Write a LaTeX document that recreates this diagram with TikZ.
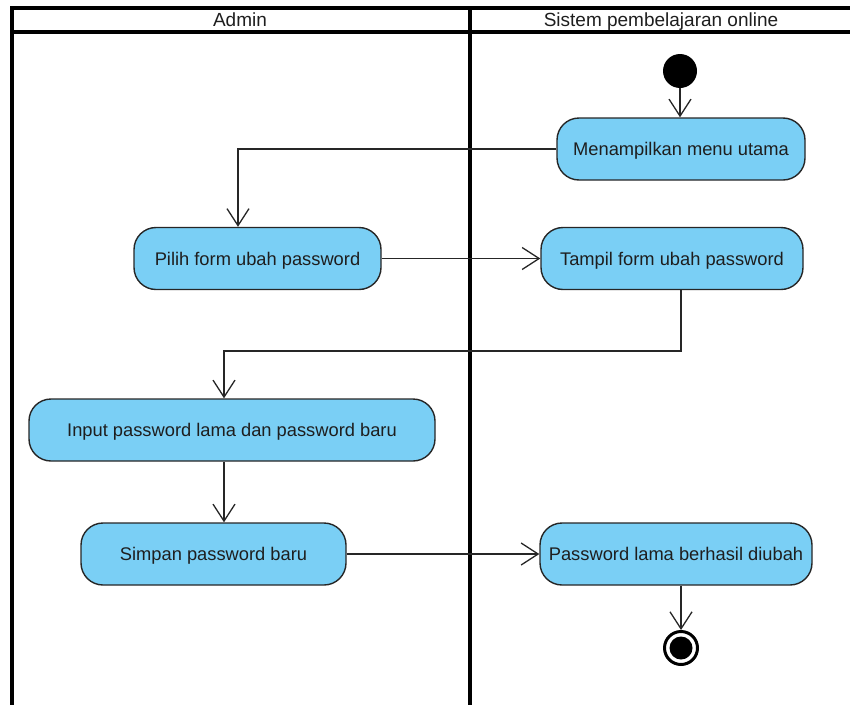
\documentclass[tikz,border=0pt]{standalone}
\usepackage{fontspec}
\setmainfont{Liberation Sans}
\usetikzlibrary{arrows.meta}
\definecolor{actblue}{RGB}{122,207,245}
\definecolor{txt}{RGB}{30,30,30}
\tikzset{
  act/.style={draw=black!85, line width=1.4pt, fill=actblue, rounded corners=22pt,
    minimum height=62pt, inner sep=0pt, text=txt, font=\fontsize{18.3}{22}\selectfont,
    text height=16.3pt, text depth=3.2pt},
  flow/.style={line width=1.3pt, draw=black!85, -{Straight Barb[length=17pt,width=22pt,line width=1.3pt]}},
  lane/.style={line width=3.2pt, line cap=rect},
  hdr/.style={text=txt, font=\fontsize{19}{22}\selectfont, inner sep=0pt,
    text height=16.9pt, text depth=3.3pt}
}
\begin{document}
\begin{tikzpicture}[x=1pt,y=-1pt]
\useasboundingbox (0,0) rectangle (850,704);
% swimlane frame
\draw[lane] (12,708) -- (12,8) -- (860,8);
\draw[lane] (12,32) -- (860,32);
\draw[lane] (470,8) -- (470,708);
\node[hdr] (hA) at (240,19.5) {Admin};
\node[hdr] (hS) at (661,19.5) {Sistem pembelajaran online};
% nodes
\node[circle, fill=black, minimum size=34pt, inner sep=0pt] (start) at (680,71) {};
\node[act, minimum width=248pt] (menu) at (681,149) {Menampilkan menu utama};
\node[act, minimum width=247pt] (pilih) at (257.5,258.5) {Pilih form ubah password};
\node[act, minimum width=262pt] (tampil) at (672,258.5) {Tampil form ubah password};
\node[act, minimum width=406pt] (input) at (232,430) {Input password lama dan password baru};
\node[act, minimum width=265pt] (simpan) at (213.5,554) {Simpan password baru};
\node[act, minimum width=272pt] (berhasil) at (676,554) {Password lama berhasil diubah};
\node[circle, draw=black, line width=3pt, minimum size=33pt, inner sep=0pt] (final) at (681,648) {};
\node[circle, fill=black, minimum size=23pt, inner sep=0pt] (finaldot) at (final.center) {};
\coordinate (bend) at (450,351);
% edges
\draw[flow] (start) -- (start |- menu.north);
\draw[flow] (menu.west) -| ([xshift=-19.5pt]pilih.north);
\draw[flow] (pilih.east) -- (tampil.west);
\draw[flow] ([xshift=9pt]tampil.south) |- (bend) -| ([xshift=-8pt]input.north);
\draw[flow] ([xshift=-8pt]input.south) -- ([xshift=-8pt]input.south |- simpan.north);
\draw[flow] (simpan.east) -- (berhasil.west);
\draw[flow] ([xshift=5pt]berhasil.south) -- (final.north);
\end{tikzpicture}
\end{document}
